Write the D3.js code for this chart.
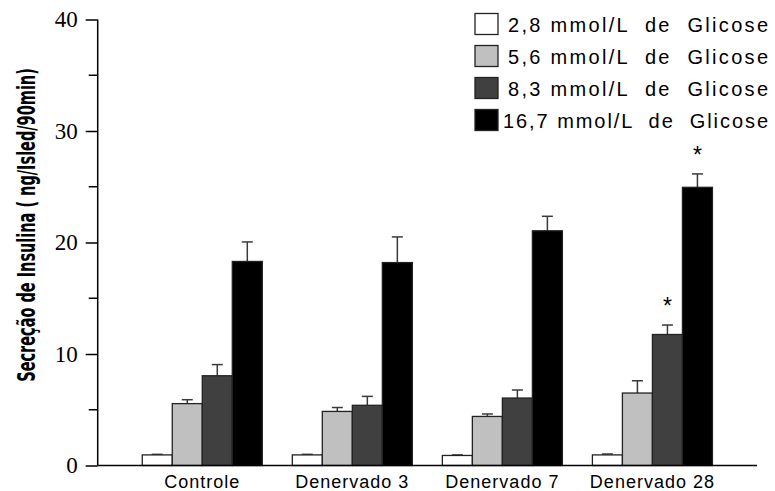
<!DOCTYPE html>
<html>
<head>
<meta charset="utf-8">
<script src="https://cdn.jsdelivr.net/npm/d3@7"></script>
<style>
  html, body { margin: 0; padding: 0; background: #fff; }
  svg { display: block; }
</style>
</head>
<body>
<svg id="chart" width="775" height="491"></svg>
<script>
// Insulin secretion per islet over 90 min, by glucose concentration
const categories = ["Controle", "Denervado 3", "Denervado 7", "Denervado 28"];
const seriesNames = [
  "2,8 mmol/L  de  Glicose",
  "5,6 mmol/L  de  Glicose",
  "8,3 mmol/L  de  Glicose",
  "16,7 mmol/L  de  Glicose"
];
const seriesColors = ["#ffffff", "#c0c0c0", "#404040", "#000000"];

// mean values, one array per glucose concentration (order follows categories)
const glucose28 = [0.95, 0.95, 0.9, 0.95];
const glucose56 = [5.55, 4.85, 4.4, 6.5];
const glucose83 = [8.05, 5.4, 6.05, 11.75];
const glucose167 = [18.3, 18.2, 21.05, 24.95];

// standard errors (upper whisker only)
const err28 = [0.05, 0.05, 0.05, 0.08];
const err56 = [0.35, 0.35, 0.22, 1.1];
const err83 = [1.0, 0.8, 0.72, 0.85];
const err167 = [1.75, 2.3, 1.3, 1.2];

// significance marks: [category index, series index]
const significant = [[3, 2], [3, 3]];

const yTicks = [0, 10, 20, 30, 40];
const yMinorTicks = [5, 15, 25, 35];

const means = [glucose28, glucose56, glucose83, glucose167];
const errors = [err28, err56, err83, err167];

const svg = d3.select("#chart");

const x0 = d3.scaleBand()
  .domain(categories)
  .range([97.7, 757])
  .paddingInner(0.2)
  .paddingOuter(0.297);

const x1 = d3.scaleBand()
  .domain(d3.range(seriesNames.length))
  .range([0, x0.bandwidth()])
  .padding(0);

const y = d3.scaleLinear().domain([0, 40]).range([465.5, 19.5]);

const rows = [];
categories.forEach((c, ci) => {
  means.forEach((arr, si) => {
    rows.push({ cat: c, ci, si, value: arr[ci], err: errors[si][ci] });
  });
});

// error whiskers (drawn first so bars cover their base)
const capW = 11;
const eg = svg.append("g").attr("stroke", "#3a3a3a").attr("stroke-width", 1.5);
rows.forEach(d => {
  const cx = x0(d.cat) + x1(d.si) + x1.bandwidth() / 2;
  eg.append("line")
    .attr("x1", cx).attr("x2", cx)
    .attr("y1", y(d.value)).attr("y2", y(d.value + d.err));
  eg.append("line")
    .attr("x1", cx - capW / 2).attr("x2", cx + capW / 2)
    .attr("y1", y(d.value + d.err)).attr("y2", y(d.value + d.err));
});

// bars
svg.append("g")
  .selectAll("rect")
  .data(rows)
  .join("rect")
  .attr("x", d => x0(d.cat) + x1(d.si))
  .attr("y", d => y(d.value))
  .attr("width", x1.bandwidth())
  .attr("height", d => y(0) - y(d.value))
  .attr("fill", d => seriesColors[d.si])
  .attr("stroke", "#222")
  .attr("stroke-width", 1.3);

// significance asterisks
svg.append("g")
  .selectAll("text")
  .data(significant)
  .join("text")
  .attr("x", d => x0(categories[d[0]]) + x1(d[1]) + x1.bandwidth() / 2)
  .attr("y", d => y(means[d[1]][d[0]] + errors[d[1]][d[0]]) - 11)
  .attr("text-anchor", "middle")
  .attr("font-family", "Liberation Sans, Arial, sans-serif")
  .attr("font-size", 23)
  .attr("fill", "#000")
  .text("*");

// y axis
const yAxis = d3.axisLeft(y).tickValues(yTicks).tickSize(12).tickPadding(8).tickFormat(d3.format("d"));
const ya = svg.append("g").attr("transform", "translate(97.7,0)").call(yAxis);
ya.select(".domain").attr("stroke", "#000").attr("stroke-width", 1.5).attr("d", `M0,${y(40)}V${y(0)}`);
ya.selectAll(".tick line").attr("stroke", "#000").attr("stroke-width", 1.5);
ya.selectAll(".tick text")
  .attr("font-family", "Liberation Serif, Times New Roman, serif")
  .attr("font-size", 23)
  .attr("fill", "#000");
ya.selectAll(".minor")
  .data(yMinorTicks)
  .join("line")
  .attr("class", "minor")
  .attr("x1", -9).attr("x2", 0)
  .attr("y1", d => y(d)).attr("y2", d => y(d))
  .attr("stroke", "#000").attr("stroke-width", 1.5);

// x axis baseline
const xAxis = d3.axisBottom(x0).tickSize(0).tickPadding(10);
const xa = svg.append("g").attr("transform", `translate(0,${y(0)})`).call(xAxis);
xa.select(".domain").attr("stroke", "#000").attr("stroke-width", 1.5).attr("d", "M97.7,0H757");
xa.selectAll(".tick text")
  .attr("font-family", "Liberation Sans, Arial, sans-serif")
  .attr("font-size", 18)
  .attr("letter-spacing", 1.0)
  .attr("fill", "#000");

// y axis title, heavy and narrow: squeeze a bold face along its length
const titleLen = 314;
const title = svg.append("text")
  .attr("text-anchor", "middle")
  .attr("font-family", "DejaVu Sans Condensed, DejaVu Sans, sans-serif")
  .attr("font-weight", "bold")
  .attr("font-size", 25)
  .attr("fill", "#000")
  .text("Secreção de Insulina ( ng/Isled/90min)");
const natural = title.node().getComputedTextLength();
title.attr("transform", `translate(35,225) rotate(-90) scale(${titleLen / natural},1)`);

// legend: labels run from their start to a shared right edge
const legendRight = 768;
const lg = svg.append("g");
seriesNames.forEach((name, i) => {
  const ry = 13.5 + i * 32;
  const tx = i === 3 ? 503 : 508;
  lg.append("rect")
    .attr("x", 475).attr("y", ry)
    .attr("width", 23).attr("height", 21)
    .attr("fill", seriesColors[i])
    .attr("stroke", "#222").attr("stroke-width", 1.3);
  lg.append("text")
    .attr("x", tx)
    .attr("y", ry + 18)
    .attr("font-family", "Liberation Sans, Arial, sans-serif")
    .attr("font-size", 20)
    .attr("textLength", legendRight - tx)
    .attr("lengthAdjust", "spacing")
    .attr("fill", "#000")
    .style("white-space", "pre")
    .text(name);
});
</script>
</body>
</html>
